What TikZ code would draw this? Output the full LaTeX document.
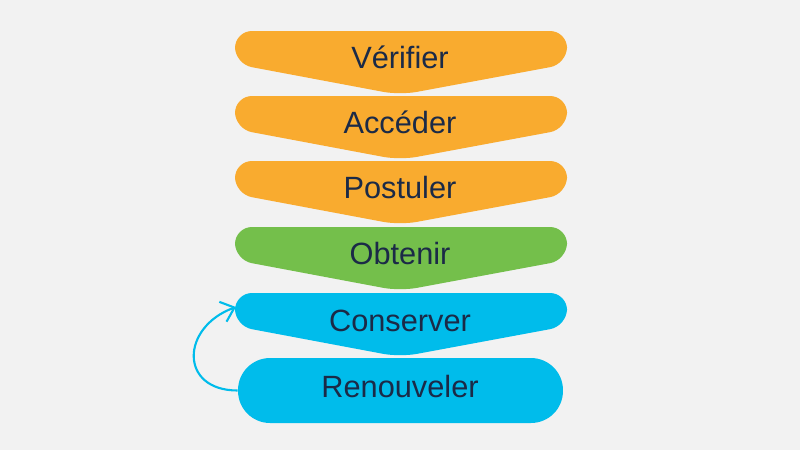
\documentclass[tikz,border=0pt]{standalone}
\usepackage{fontspec}
\setmainfont{Liberation Sans}
\usepackage{xcolor}
\usepackage{tikz}
\usetikzlibrary{positioning,arrows.meta}

\definecolor{bgGray}{HTML}{F2F2F2}
\definecolor{stepOrange}{HTML}{F9AB2F}
\definecolor{stepGreen}{HTML}{74BF4B}
\definecolor{stepBlue}{HTML}{00BCEB}
\definecolor{labelNavy}{HTML}{1B2A47}

% chevron with rounded top ends, top edge at #2
\newcommand{\chevronpath}[2]{%
  \fill[#1, rounded corners=0.34cm] (400,#2) -- (567,#2) -- (567,#2+33)
    -- (400,#2+64) -- (235,#2+33) -- (235,#2) -- cycle;}

\begin{document}
\begin{tikzpicture}[
  x=0.02cm, y=-0.02cm,
  label/.style={anchor=base, text=labelNavy, font=\fontsize{17.5}{20}\selectfont},
  pill/.style={fill=stepBlue, rounded corners=0.64cm, minimum width=6.5cm, minimum height=1.3cm},
  loop/.style={-{Straight Barb[length=7pt, width=12pt]}, line width=1.2pt, draw=stepBlue},
]
  \fill[bgGray] (0,0) rectangle (800,450);
  \useasboundingbox (0,0) rectangle (800,450);

  \chevronpath{stepOrange}{31}
  \chevronpath{stepOrange}{96}
  \chevronpath{stepOrange}{161}
  \chevronpath{stepGreen}{227}
  \chevronpath{stepBlue}{293}
  \node[pill] (renew) at (400.5,390.5) {};

  \node[label] (verify) at (400,68) {Vérifier};
  \node[label] (access) at (400,133) {Accéder};
  \node[label] (apply) at (400,198) {Postuler};
  \node[label] (obtain) at (400,264) {Obtenir};
  \node[label] (keep) at (400,331) {Conserver};
  \node[label] (renewtext) at (400,397) {Renouveler};

  \coordinate (keepin) at (236,307);
  \draw[loop] (renew.west) to[out=180, in=200, looseness=1.8] (keepin);
\end{tikzpicture}
\end{document}
